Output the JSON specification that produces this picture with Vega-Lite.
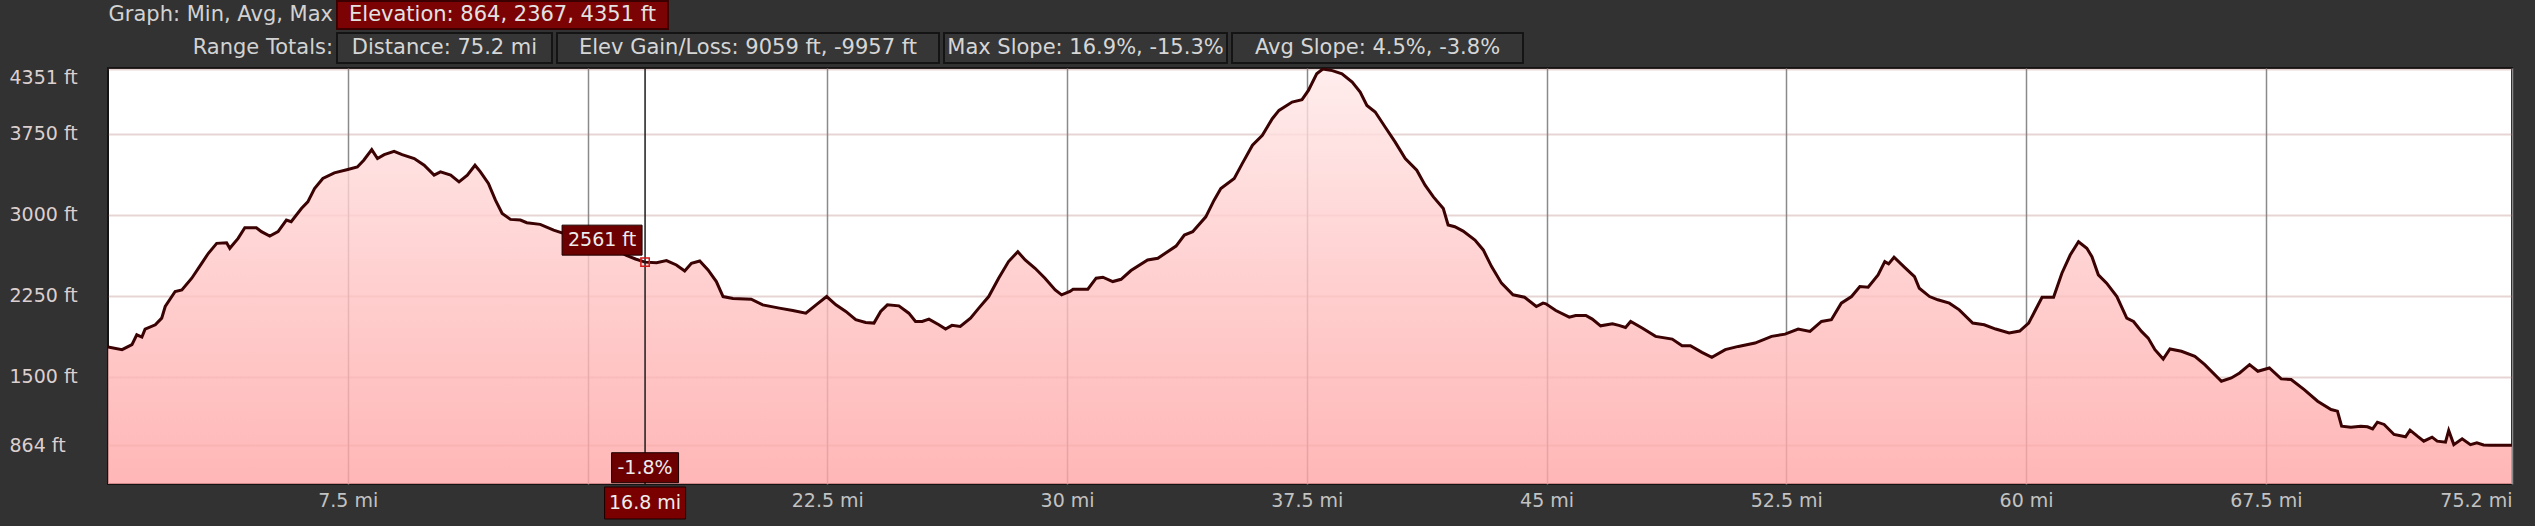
{
  "$schema": "https://vega.github.io/schema/vega-lite/v6.json",
  "background": "#323232",
  "padding": {"left": 8, "top": 0, "right": 24, "bottom": 8},
  "spacing": 2,
  "config": {
    "font": "DejaVu Sans",
    "view": {"stroke": null},
    "axis": {"domain": false, "ticks": false, "tickSize": 0, "title": null}
  },
  "datasets": {
    "profile": [
      {"mi": 0, "elev": 1774}, {"mi": 0.44, "elev": 1750}, {"mi": 0.75, "elev": 1796}, {"mi": 0.9, "elev": 1888},
      {"mi": 1.06, "elev": 1867}, {"mi": 1.16, "elev": 1940}, {"mi": 1.48, "elev": 1980}, {"mi": 1.68, "elev": 2042},
      {"mi": 1.79, "elev": 2150}, {"mi": 2.1, "elev": 2289}, {"mi": 2.31, "elev": 2304}, {"mi": 2.62, "elev": 2412},
      {"mi": 2.93, "elev": 2550}, {"mi": 3.14, "elev": 2643}, {"mi": 3.4, "elev": 2735}, {"mi": 3.71, "elev": 2741},
      {"mi": 3.81, "elev": 2689}, {"mi": 4.07, "elev": 2781}, {"mi": 4.28, "elev": 2880}, {"mi": 4.64, "elev": 2880},
      {"mi": 4.8, "elev": 2843}, {"mi": 5.06, "elev": 2803}, {"mi": 5.32, "elev": 2843}, {"mi": 5.58, "elev": 2951},
      {"mi": 5.73, "elev": 2935}, {"mi": 6.05, "elev": 3058}, {"mi": 6.25, "elev": 3120}, {"mi": 6.46, "elev": 3243},
      {"mi": 6.72, "elev": 3336}, {"mi": 7.08, "elev": 3388}, {"mi": 7.5, "elev": 3419}, {"mi": 7.8, "elev": 3443},
      {"mi": 8.0, "elev": 3505}, {"mi": 8.25, "elev": 3604}, {"mi": 8.43, "elev": 3521}, {"mi": 8.64, "elev": 3557},
      {"mi": 8.95, "elev": 3588}, {"mi": 9.2, "elev": 3557}, {"mi": 9.58, "elev": 3521}, {"mi": 9.89, "elev": 3459},
      {"mi": 10.2, "elev": 3367}, {"mi": 10.4, "elev": 3397}, {"mi": 10.72, "elev": 3367}, {"mi": 10.98, "elev": 3305},
      {"mi": 11.24, "elev": 3367}, {"mi": 11.48, "elev": 3459}, {"mi": 11.65, "elev": 3397}, {"mi": 11.9, "elev": 3290},
      {"mi": 12.12, "elev": 3135}, {"mi": 12.33, "elev": 3012}, {"mi": 12.59, "elev": 2957}, {"mi": 12.9, "elev": 2951},
      {"mi": 13.1, "elev": 2926}, {"mi": 13.52, "elev": 2911}, {"mi": 13.94, "elev": 2858}, {"mi": 14.25, "elev": 2828},
      {"mi": 14.6, "elev": 2795}, {"mi": 15.0, "elev": 2760}, {"mi": 15.4, "elev": 2730}, {"mi": 15.8, "elev": 2695},
      {"mi": 16.2, "elev": 2625}, {"mi": 16.5, "elev": 2590}, {"mi": 16.8, "elev": 2561}, {"mi": 17.16, "elev": 2556},
      {"mi": 17.47, "elev": 2575}, {"mi": 17.78, "elev": 2535}, {"mi": 18.04, "elev": 2479}, {"mi": 18.25, "elev": 2550},
      {"mi": 18.51, "elev": 2572}, {"mi": 18.77, "elev": 2489}, {"mi": 19.03, "elev": 2381}, {"mi": 19.24, "elev": 2242},
      {"mi": 19.55, "elev": 2224}, {"mi": 20.12, "elev": 2218}, {"mi": 20.48, "elev": 2165}, {"mi": 21.0, "elev": 2135},
      {"mi": 21.42, "elev": 2113}, {"mi": 21.83, "elev": 2088}, {"mi": 22.15, "elev": 2165}, {"mi": 22.48, "elev": 2242},
      {"mi": 22.77, "elev": 2165}, {"mi": 23.08, "elev": 2104}, {"mi": 23.39, "elev": 2027}, {"mi": 23.7, "elev": 2002},
      {"mi": 23.96, "elev": 1996}, {"mi": 24.17, "elev": 2104}, {"mi": 24.38, "elev": 2165}, {"mi": 24.74, "elev": 2156},
      {"mi": 25.05, "elev": 2088}, {"mi": 25.26, "elev": 2011}, {"mi": 25.47, "elev": 2011}, {"mi": 25.68, "elev": 2033},
      {"mi": 25.99, "elev": 1981}, {"mi": 26.2, "elev": 1941}, {"mi": 26.4, "elev": 1975}, {"mi": 26.66, "elev": 1965},
      {"mi": 26.98, "elev": 2042}, {"mi": 27.24, "elev": 2135}, {"mi": 27.55, "elev": 2242}, {"mi": 27.86, "elev": 2412},
      {"mi": 28.17, "elev": 2566}, {"mi": 28.46, "elev": 2658}, {"mi": 28.69, "elev": 2581}, {"mi": 29.0, "elev": 2504},
      {"mi": 29.31, "elev": 2412}, {"mi": 29.63, "elev": 2304}, {"mi": 29.83, "elev": 2258}, {"mi": 30.09, "elev": 2289},
      {"mi": 30.19, "elev": 2310}, {"mi": 30.65, "elev": 2310}, {"mi": 30.91, "elev": 2412}, {"mi": 31.12, "elev": 2421},
      {"mi": 31.43, "elev": 2381}, {"mi": 31.69, "elev": 2402}, {"mi": 32.0, "elev": 2483}, {"mi": 32.52, "elev": 2581},
      {"mi": 32.84, "elev": 2597}, {"mi": 33.41, "elev": 2710}, {"mi": 33.67, "elev": 2812}, {"mi": 33.93, "elev": 2843},
      {"mi": 34.34, "elev": 2981}, {"mi": 34.6, "elev": 3135}, {"mi": 34.81, "elev": 3243}, {"mi": 35.23, "elev": 3336},
      {"mi": 35.48, "elev": 3474}, {"mi": 35.8, "elev": 3644}, {"mi": 36.11, "elev": 3736}, {"mi": 36.42, "elev": 3890},
      {"mi": 36.63, "elev": 3967}, {"mi": 37.04, "elev": 4044}, {"mi": 37.35, "elev": 4066}, {"mi": 37.55, "elev": 4152},
      {"mi": 37.81, "elev": 4306}, {"mi": 38.0, "elev": 4351}, {"mi": 38.3, "elev": 4336}, {"mi": 38.6, "elev": 4306},
      {"mi": 38.92, "elev": 4229}, {"mi": 39.17, "elev": 4136}, {"mi": 39.38, "elev": 4013}, {"mi": 39.64, "elev": 3952},
      {"mi": 39.95, "elev": 3813}, {"mi": 40.26, "elev": 3675}, {"mi": 40.58, "elev": 3521}, {"mi": 40.94, "elev": 3413},
      {"mi": 41.2, "elev": 3274}, {"mi": 41.46, "elev": 3166}, {"mi": 41.77, "elev": 3058}, {"mi": 41.92, "elev": 2905},
      {"mi": 42.13, "elev": 2889}, {"mi": 42.39, "elev": 2849}, {"mi": 42.76, "elev": 2766}, {"mi": 43.02, "elev": 2674},
      {"mi": 43.28, "elev": 2520}, {"mi": 43.59, "elev": 2366}, {"mi": 43.95, "elev": 2258}, {"mi": 44.31, "elev": 2236},
      {"mi": 44.68, "elev": 2150}, {"mi": 44.89, "elev": 2181}, {"mi": 44.98, "elev": 2175}, {"mi": 45.29, "elev": 2113},
      {"mi": 45.71, "elev": 2051}, {"mi": 45.91, "elev": 2067}, {"mi": 46.23, "elev": 2067}, {"mi": 46.43, "elev": 2033},
      {"mi": 46.69, "elev": 1971}, {"mi": 47.06, "elev": 1990}, {"mi": 47.26, "elev": 1975}, {"mi": 47.47, "elev": 1956},
      {"mi": 47.63, "elev": 2011}, {"mi": 47.99, "elev": 1950}, {"mi": 48.41, "elev": 1873}, {"mi": 48.93, "elev": 1848},
      {"mi": 49.24, "elev": 1787}, {"mi": 49.5, "elev": 1787}, {"mi": 49.86, "elev": 1725}, {"mi": 50.17, "elev": 1679},
      {"mi": 50.59, "elev": 1750}, {"mi": 51.0, "elev": 1780}, {"mi": 51.52, "elev": 1811}, {"mi": 52.04, "elev": 1873},
      {"mi": 52.46, "elev": 1894}, {"mi": 52.87, "elev": 1941}, {"mi": 53.24, "elev": 1919}, {"mi": 53.6, "elev": 2011},
      {"mi": 53.91, "elev": 2027}, {"mi": 54.22, "elev": 2181}, {"mi": 54.54, "elev": 2242}, {"mi": 54.8, "elev": 2335},
      {"mi": 55.06, "elev": 2329}, {"mi": 55.37, "elev": 2442}, {"mi": 55.58, "elev": 2566}, {"mi": 55.7, "elev": 2545},
      {"mi": 55.87, "elev": 2606}, {"mi": 56.2, "elev": 2513}, {"mi": 56.51, "elev": 2427}, {"mi": 56.66, "elev": 2319},
      {"mi": 56.98, "elev": 2242}, {"mi": 57.24, "elev": 2212}, {"mi": 57.6, "elev": 2181}, {"mi": 57.91, "elev": 2119},
      {"mi": 58.33, "elev": 1996}, {"mi": 58.69, "elev": 1981}, {"mi": 59.05, "elev": 1941}, {"mi": 59.47, "elev": 1904},
      {"mi": 59.8, "elev": 1922}, {"mi": 60.08, "elev": 1996}, {"mi": 60.5, "elev": 2236}, {"mi": 60.86, "elev": 2236},
      {"mi": 61.12, "elev": 2458}, {"mi": 61.38, "elev": 2627}, {"mi": 61.64, "elev": 2750}, {"mi": 61.9, "elev": 2689},
      {"mi": 62.06, "elev": 2612}, {"mi": 62.26, "elev": 2443}, {"mi": 62.52, "elev": 2366}, {"mi": 62.84, "elev": 2242},
      {"mi": 63.15, "elev": 2042}, {"mi": 63.36, "elev": 2011}, {"mi": 63.61, "elev": 1919}, {"mi": 63.82, "elev": 1857},
      {"mi": 64.03, "elev": 1750}, {"mi": 64.29, "elev": 1663}, {"mi": 64.5, "elev": 1756}, {"mi": 64.86, "elev": 1735},
      {"mi": 65.28, "elev": 1688}, {"mi": 65.59, "elev": 1611}, {"mi": 66.11, "elev": 1457}, {"mi": 66.42, "elev": 1488},
      {"mi": 66.68, "elev": 1534}, {"mi": 66.99, "elev": 1611}, {"mi": 67.25, "elev": 1550}, {"mi": 67.61, "elev": 1580},
      {"mi": 67.98, "elev": 1479}, {"mi": 68.29, "elev": 1473}, {"mi": 68.7, "elev": 1380}, {"mi": 69.12, "elev": 1272},
      {"mi": 69.54, "elev": 1195}, {"mi": 69.74, "elev": 1180}, {"mi": 69.87, "elev": 1041}, {"mi": 70.16, "elev": 1032},
      {"mi": 70.47, "elev": 1041}, {"mi": 70.68, "elev": 1035}, {"mi": 70.84, "elev": 1016}, {"mi": 70.99, "elev": 1078},
      {"mi": 71.2, "elev": 1057}, {"mi": 71.51, "elev": 964}, {"mi": 71.87, "elev": 942}, {"mi": 72.01, "elev": 1004},
      {"mi": 72.24, "elev": 948}, {"mi": 72.44, "elev": 902}, {"mi": 72.7, "elev": 939}, {"mi": 72.86, "elev": 902},
      {"mi": 73.12, "elev": 893}, {"mi": 73.22, "elev": 1001}, {"mi": 73.38, "elev": 870}, {"mi": 73.64, "elev": 924},
      {"mi": 73.9, "elev": 870}, {"mi": 74.1, "elev": 887}, {"mi": 74.31, "elev": 866}, {"mi": 74.52, "elev": 865},
      {"mi": 75.2, "elev": 864}
    ],
    "cursor": [
      {"mi": 16.8, "elev": 2561, "elevText": "2561 ft", "grade": "-1.8%", "miText": "16.8 mi"}
    ]
  },
  "vconcat": [
    {
      "spacing": 3,
      "hconcat": [
        {
          "width": 225, "height": 28,
          "data": {"values": [{"label": "Graph: Min, Avg, Max"}]},
          "mark": {"type": "text", "x": "width", "align": "right", "baseline": "middle", "fontSize": 21, "color": "#d2d2d2"},
          "encoding": {"text": {"field": "label"}}
        },
        {
          "width": 331, "height": 28,
          "view": {"fill": "#7c0303", "stroke": "#3a0000", "strokeWidth": 2},
          "data": {"values": [{"label": "Elevation: 864, 2367, 4351 ft"}]},
          "mark": {"type": "text", "baseline": "middle", "fontSize": 21, "color": "#e2e2e2"},
          "encoding": {"text": {"field": "label"}}
        }
      ]
    },
    {
      "spacing": 3,
      "hconcat": [
        {
          "width": 225, "height": 30,
          "data": {"values": [{"label": "Range Totals:"}]},
          "mark": {"type": "text", "x": "width", "align": "right", "baseline": "middle", "fontSize": 21, "color": "#d2d2d2"},
          "encoding": {"text": {"field": "label"}}
        },
        {
          "width": 215, "height": 30,
          "view": {"fill": "#363636", "stroke": "#141414", "strokeWidth": 2},
          "data": {"values": [{"label": "Distance: 75.2 mi"}]},
          "mark": {"type": "text", "baseline": "middle", "fontSize": 21, "color": "#d6d6d6"},
          "encoding": {"text": {"field": "label"}}
        },
        {
          "width": 382, "height": 30,
          "view": {"fill": "#363636", "stroke": "#141414", "strokeWidth": 2},
          "data": {"values": [{"label": "Elev Gain/Loss: 9059 ft, -9957 ft"}]},
          "mark": {"type": "text", "baseline": "middle", "fontSize": 21, "color": "#d6d6d6"},
          "encoding": {"text": {"field": "label"}}
        },
        {
          "width": 283, "height": 30,
          "view": {"fill": "#363636", "stroke": "#141414", "strokeWidth": 2},
          "data": {"values": [{"label": "Max Slope: 16.9%, -15.3%"}]},
          "mark": {"type": "text", "baseline": "middle", "fontSize": 21, "color": "#d6d6d6"},
          "encoding": {"text": {"field": "label"}}
        },
        {
          "width": 291, "height": 30,
          "view": {"fill": "#363636", "stroke": "#141414", "strokeWidth": 2},
          "data": {"values": [{"label": "Avg Slope: 4.5%, -3.8%"}]},
          "mark": {"type": "text", "baseline": "middle", "fontSize": 21, "color": "#d6d6d6"},
          "encoding": {"text": {"field": "label"}}
        }
      ]
    },
    {
      "width": 2404,
      "height": 416,
      "view": {"fill": "#ffffff", "stroke": "#141414", "strokeWidth": 2},
      "encoding": {
        "x": {
          "field": "mi", "type": "quantitative",
          "scale": {"domain": [0, 75.2], "nice": false, "zero": false},
          "axis": {
            "values": [7.5, 15, 22.5, 30, 37.5, 45, 52.5, 60, 67.5, 75.2],
            "format": ".1~f",
            "labelExpr": "datum.value == 15 ? '' : datum.label + ' mi'",
            "grid": true, "gridColor": "#8a8a8a", "gridWidth": 1.5,
            "labelColor": "#c2c2c2", "labelFontSize": 19, "labelPadding": 7, "labelFlush": true
          }
        },
        "y": {
          "field": "elev", "type": "quantitative",
          "scale": {"domain": [505, 4360], "nice": false, "zero": false},
          "axis": {
            "values": [864, 1500, 2250, 3000, 3750, 4351],
            "format": "d",
            "labelExpr": "datum.label + ' ft'",
            "grid": true, "gridColor": "#b07070", "gridOpacity": 0.3, "gridWidth": 2,
            "labelAlign": "left", "labelPadding": 99, "labelColor": "#dccfcf", "labelFontSize": 19, "labelFlush": 5
          }
        }
      },
      "layer": [
        {
          "data": {"name": "profile"},
          "mark": {
            "type": "area", "clip": true, "opacity": 0.8,
            "color": {"gradient": "linear", "x1": 0, "y1": 0, "x2": 0, "y2": 1,
              "stops": [{"offset": 0, "color": "#ffe8e8"}, {"offset": 0.5, "color": "#ffc0c0"}, {"offset": 1, "color": "#ff9c9c"}]}
          }
        },
        {
          "data": {"name": "profile"},
          "mark": {"type": "line", "clip": true, "color": "#3a0202", "strokeWidth": 3}
        },
        {
          "data": {"name": "cursor"},
          "mark": {"type": "rule", "color": "#1c1c1c", "strokeWidth": 1.5},
          "encoding": {"y": null}
        },
        {
          "data": {"name": "cursor"},
          "mark": {"type": "point", "shape": "square", "size": 70, "filled": false, "stroke": "#d01818", "strokeWidth": 1.5, "opacity": 1}
        },
        {
          "data": {"name": "cursor"},
          "mark": {"type": "point", "shape": "M-1.66,-0.74H-0.06V-0.14H-1.66Z", "size": 10000, "filled": true, "fill": "#6c0000", "stroke": "#1a0000", "strokeWidth": 1, "opacity": 1}
        },
        {
          "data": {"name": "cursor"},
          "mark": {"type": "text", "dx": -43, "dy": -22, "fontSize": 19, "color": "#ececec", "baseline": "middle"},
          "encoding": {"text": {"field": "elevText"}}
        },
        {
          "data": {"name": "cursor"},
          "mark": {"type": "point", "shape": "M-0.67,-0.3H0.67V0.3H-0.67Z", "size": 10000, "filled": true, "fill": "#6c0000", "stroke": "#1a0000", "strokeWidth": 1, "opacity": 1},
          "encoding": {"y": {"datum": 656, "type": "quantitative"}}
        },
        {
          "data": {"name": "cursor"},
          "mark": {"type": "text", "fontSize": 19, "color": "#ececec", "baseline": "middle"},
          "encoding": {"y": {"datum": 656, "type": "quantitative"}, "text": {"field": "grade"}}
        },
        {
          "data": {"name": "cursor"},
          "mark": {"type": "point", "shape": "M-0.81,-0.32H0.81V0.32H-0.81Z", "size": 10000, "filled": true, "fill": "#7a0000", "stroke": "#1a0000", "strokeWidth": 1, "opacity": 1},
          "encoding": {"y": {"datum": 329, "type": "quantitative"}}
        },
        {
          "data": {"name": "cursor"},
          "mark": {"type": "text", "fontSize": 19, "color": "#ececec", "baseline": "middle"},
          "encoding": {"y": {"datum": 329, "type": "quantitative"}, "text": {"field": "miText"}}
        }
      ]
    }
  ]
}
